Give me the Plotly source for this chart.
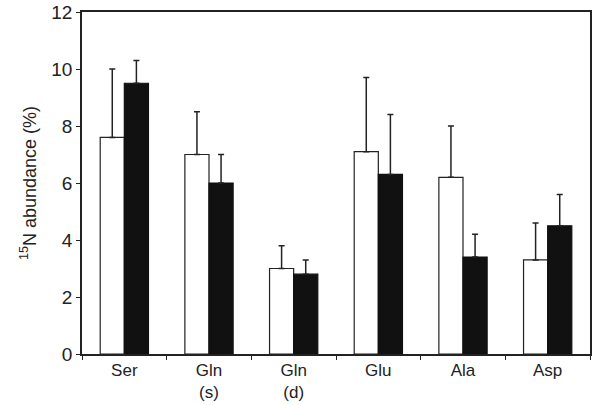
import plotly.graph_objects as go

categories = ["Ser", "Gln<br>(s)", "Gln<br>(d)", "Glu", "Ala", "Asp"]
white_vals = [7.6, 7.0, 3.0, 7.1, 6.2, 3.3]
white_err = [2.4, 1.5, 0.8, 2.6, 1.8, 1.3]
black_vals = [9.5, 6.0, 2.8, 6.3, 3.4, 4.5]
black_err = [0.8, 1.0, 0.5, 2.1, 0.8, 1.1]
y_ticks = [0, 2, 4, 6, 8, 10, 12]

fig = go.Figure()
fig.add_trace(go.Bar(
    x=categories, y=white_vals, marker=dict(color="white", line=dict(color="#222", width=1.2)),
    error_y=dict(type="data", array=white_err, arrayminus=[0]*6, symmetric=False,
                 color="#222", thickness=1.5, width=3),
))
fig.add_trace(go.Bar(
    x=categories, y=black_vals, marker=dict(color="#111", line=dict(color="#111", width=1.2)),
    error_y=dict(type="data", array=black_err, arrayminus=[0]*6, symmetric=False,
                 color="#222", thickness=1.5, width=3),
))
fig.update_layout(
    width=602, height=405, barmode="group", bargap=0.43, bargroupgap=0,
    showlegend=False, plot_bgcolor="white", paper_bgcolor="white",
    margin=dict(l=82, r=12, t=12, b=51),
    font=dict(family="Liberation Sans, Arial", size=18, color="#222"),
)
fig.update_xaxes(showline=True, linecolor="#222", linewidth=1.5, mirror=True,
                 ticks="outside", tickson="boundaries", ticklen=4, tickcolor="#222",
                 showgrid=False, tickfont=dict(size=17), automargin=False)
fig.update_yaxes(range=[0, 12], tickvals=y_ticks, showline=True, linecolor="#222",
                 linewidth=1.5, mirror=True, ticks="outside", ticklen=4, tickcolor="#222",
                 showgrid=False, zeroline=False, tickfont=dict(size=19), automargin=False,
                 title=dict(text="<sup>15</sup>N abundance (%)", font=dict(size=18), standoff=10))
fig.write_html("out.html", config={"displayModeBar": False},
               post_script="document.body.style.margin='0';")
